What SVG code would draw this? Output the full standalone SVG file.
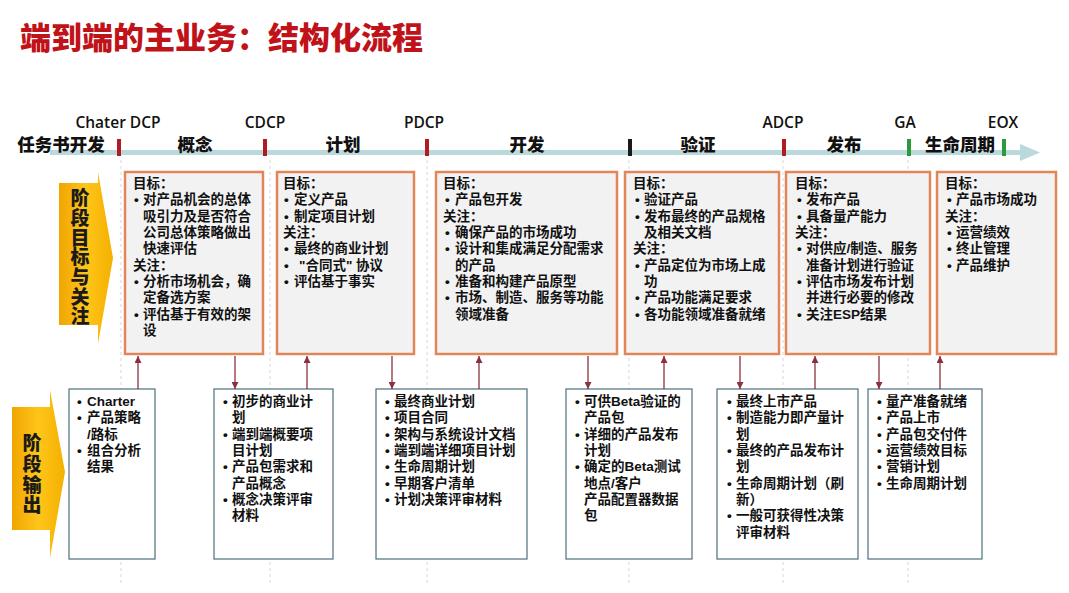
<svg xmlns="http://www.w3.org/2000/svg" width="1069" height="593" viewBox="0 0 1069 593">
<style>
.t{font-family:"Liberation Sans","Noto Sans CJK SC",sans-serif;font-weight:700;font-size:13.5px;fill:#111}
.b{font-family:"Liberation Sans",sans-serif;font-weight:700}
.ph{font-family:"Noto Sans CJK SC","Noto Sans",sans-serif;font-weight:900;font-size:17.5px;fill:#111;text-anchor:middle}
.ms{font-family:"Open Sans","Liberation Sans",sans-serif;font-weight:600;font-size:15.5px;fill:#111;text-anchor:middle}
.vl{font-family:"Noto Sans CJK SC",sans-serif;font-weight:900;font-size:19px;fill:#1a1a1a;writing-mode:vertical-rl;text-orientation:upright}
.top{fill:#f2f2f2;stroke:#e2865a;stroke-width:2.5}
.bot{fill:#fff;stroke:#4d6e7e;stroke-width:1.2}
.guide{stroke:#d3d8da;stroke-width:1;stroke-dasharray:3 3}
.con{stroke:#8c3040;stroke-width:1.3;fill:none}
</style>
<defs>
<linearGradient id="yel" x1="0" y1="0" x2="1" y2="0">
<stop offset="0" stop-color="#f0a500"/>
<stop offset="0.5" stop-color="#ffc51a"/>
<stop offset="1" stop-color="#f4b000"/>
</linearGradient>
<marker id="ah" viewBox="0 0 8 8" refX="8" refY="4" markerWidth="7" markerHeight="7" markerUnits="userSpaceOnUse" orient="auto">
<path d="M0,0 L8,4 L0,8 Z" fill="#8c3040"/>
</marker>
</defs>
<rect width="1069" height="593" fill="#fff"/>

<text x="20" y="49" font-family="Noto Sans CJK SC,sans-serif" font-weight="900" font-size="31" fill="#bf1219">端到端的主业务：结构化流程</text>

<g id="guides">
<line class="guide" x1="121" y1="160" x2="121" y2="585"/>
<line class="guide" x1="270" y1="160" x2="270" y2="585"/>
<line class="guide" x1="427" y1="160" x2="427" y2="585"/>
<line class="guide" x1="629" y1="160" x2="629" y2="585"/>
<line class="guide" x1="783" y1="160" x2="783" y2="585"/>
<line class="guide" x1="908" y1="160" x2="908" y2="585"/>
</g>

<g id="timeline">
<rect x="50" y="150" width="972" height="5" fill="#b9d9dc"/>
<path d="M1020,144 L1040,152.5 L1020,161 Z" fill="#b9d9dc"/>
<rect x="117" y="139" width="4" height="17" fill="#b01c22"/>
<rect x="263" y="139" width="4" height="17" fill="#b01c22"/>
<rect x="425" y="139" width="4" height="17" fill="#b01c22"/>
<rect x="628" y="139" width="4" height="17" fill="#1a1a1a"/>
<rect x="782" y="139" width="4" height="17" fill="#b01c22"/>
<rect x="907" y="139" width="4" height="17" fill="#2a9a3a"/>
<rect x="1002" y="139" width="4" height="17" fill="#2a9a3a"/>
<text class="ms" x="118" y="128">Chater DCP</text>
<text class="ms" x="265" y="128">CDCP</text>
<text class="ms" x="424" y="128">PDCP</text>
<text class="ms" x="783" y="128">ADCP</text>
<text class="ms" x="905" y="128">GA</text>
<text class="ms" x="1003" y="128">EOX</text>
<text class="ph" x="61" y="151">任务书开发</text>
<text class="ph" x="195" y="151">概念</text>
<text class="ph" x="343" y="151">计划</text>
<text class="ph" x="527" y="151">开发</text>
<text class="ph" x="698" y="151">验证</text>
<text class="ph" x="844" y="151">发布</text>
<text class="ph" x="960" y="151">生命周期</text>
</g>

<g id="label-goals">
<path d="M59,183 L98,183 L98,172 L113,258 L98,344 L98,325 L59,325 Z" fill="url(#yel)"/>
<text class="vl" x="80" y="188.5" letter-spacing="0.7">阶段目标与关注</text>
</g>

<g id="label-output">
<path d="M12,407 L50,407 L50,390 L65,472 L50,558 L50,530 L12,530 Z" fill="url(#yel)"/>
<text class="vl" x="32" y="433.5" letter-spacing="1.7">阶段输出</text>
</g>

<g id="goal-concept">
<rect class="top" x="125" y="172" width="138" height="182"/>
<text class="t">
<tspan x="133" y="188">目标：</tspan>
<tspan class="b" x="134" y="204.4">•</tspan><tspan x="143" y="204.4">对产品机会的总体</tspan>
<tspan x="143" y="220.7">吸引力及是否符合</tspan>
<tspan x="143" y="237">公司总体策略做出</tspan>
<tspan x="143" y="253.4">快速评估</tspan>
<tspan x="133" y="269.7">关注：</tspan>
<tspan class="b" x="134" y="286">•</tspan><tspan x="143" y="286">分析市场机会，确</tspan>
<tspan x="143" y="302.4">定备选方案</tspan>
<tspan class="b" x="134" y="318.7">•</tspan><tspan x="143" y="318.7">评估基于有效的架</tspan>
<tspan x="143" y="335">设</tspan>
</text>
</g>

<g id="goal-plan">
<rect class="top" x="277" y="172" width="137" height="182"/>
<text class="t">
<tspan x="283" y="188">目标：</tspan>
<tspan class="b" x="284" y="204.4">•</tspan><tspan x="294" y="204.4">定义产品</tspan>
<tspan class="b" x="284" y="220.7">•</tspan><tspan x="294" y="220.7">制定项目计划</tspan>
<tspan x="283" y="237">关注：</tspan>
<tspan class="b" x="284" y="253.4">•</tspan><tspan x="294" y="253.4">最终的商业计划</tspan>
<tspan class="b" x="284" y="269.7">•</tspan><tspan x="299" y="269.7">"合同式" 协议</tspan>
<tspan class="b" x="284" y="286">•</tspan><tspan x="294" y="286">评估基于事实</tspan>
</text>
</g>

<g id="goal-develop">
<rect class="top" x="436" y="172" width="181" height="182"/>
<text class="t">
<tspan x="443" y="188">目标：</tspan>
<tspan class="b" x="445" y="204.4">•</tspan><tspan x="455" y="204.4">产品包开发</tspan>
<tspan x="443" y="220.7">关注：</tspan>
<tspan class="b" x="445" y="237">•</tspan><tspan x="455" y="237">确保产品的市场成功</tspan>
<tspan class="b" x="445" y="253.4">•</tspan><tspan x="455" y="253.4">设计和集成满足分配需求</tspan>
<tspan x="455" y="269.7">的产品</tspan>
<tspan class="b" x="445" y="286">•</tspan><tspan x="455" y="286">准备和构建产品原型</tspan>
<tspan class="b" x="445" y="302.4">•</tspan><tspan x="455" y="302.4">市场、制造、服务等功能</tspan>
<tspan x="455" y="318.7">领域准备</tspan>
</text>
</g>

<g id="goal-verify">
<rect class="top" x="625" y="172" width="154" height="182"/>
<text class="t">
<tspan x="633" y="188">目标：</tspan>
<tspan class="b" x="635" y="204.4">•</tspan><tspan x="644" y="204.4">验证产品</tspan>
<tspan class="b" x="635" y="220.7">•</tspan><tspan x="644" y="220.7">发布最终的产品规格</tspan>
<tspan x="644" y="237">及相关文档</tspan>
<tspan x="633" y="253.4">关注：</tspan>
<tspan class="b" x="635" y="269.7">•</tspan><tspan x="644" y="269.7">产品定位为市场上成</tspan>
<tspan x="644" y="286">功</tspan>
<tspan class="b" x="635" y="302.4">•</tspan><tspan x="644" y="302.4">产品功能满足要求</tspan>
<tspan class="b" x="635" y="318.7">•</tspan><tspan x="644" y="318.7">各功能领域准备就绪</tspan>
</text>
</g>

<g id="goal-release">
<rect class="top" x="786" y="172" width="144" height="182"/>
<text class="t">
<tspan x="795" y="188">目标：</tspan>
<tspan class="b" x="797" y="204.4">•</tspan><tspan x="806" y="204.4">发布产品</tspan>
<tspan class="b" x="797" y="220.7">•</tspan><tspan x="806" y="220.7">具备量产能力</tspan>
<tspan x="795" y="237">关注：</tspan>
<tspan class="b" x="797" y="253.4">•</tspan><tspan x="806" y="253.4">对供应/制造、服务</tspan>
<tspan x="806" y="269.7">准备计划进行验证</tspan>
<tspan class="b" x="797" y="286">•</tspan><tspan x="806" y="286">评估市场发布计划</tspan>
<tspan x="806" y="302.4">并进行必要的修改</tspan>
<tspan class="b" x="797" y="318.7">•</tspan><tspan x="806" y="318.7">关注ESP结果</tspan>
</text>
</g>

<g id="goal-lifecycle">
<rect class="top" x="937" y="172" width="119" height="182"/>
<text class="t">
<tspan x="945" y="188">目标：</tspan>
<tspan class="b" x="947" y="204.4">•</tspan><tspan x="956" y="204.4">产品市场成功</tspan>
<tspan x="945" y="220.7">关注：</tspan>
<tspan class="b" x="947" y="237">•</tspan><tspan x="956" y="237">运营绩效</tspan>
<tspan class="b" x="947" y="253.4">•</tspan><tspan x="956" y="253.4">终止管理</tspan>
<tspan class="b" x="947" y="269.7">•</tspan><tspan x="956" y="269.7">产品维护</tspan>
</text>
</g>

<g id="out-charter">
<rect class="bot" x="69" y="389" width="86" height="170"/>
<text class="t">
<tspan class="b" x="77" y="406">•</tspan><tspan x="87" y="406">Charter</tspan>
<tspan class="b" x="77" y="422.3">•</tspan><tspan x="87" y="422.3">产品策略</tspan>
<tspan x="87" y="438.6">/路标</tspan>
<tspan class="b" x="77" y="455">•</tspan><tspan x="87" y="455">组合分析</tspan>
<tspan x="87" y="471.3">结果</tspan>
</text>
</g>

<g id="out-concept">
<rect class="bot" x="214" y="389" width="119" height="170"/>
<text class="t">
<tspan class="b" x="223" y="406">•</tspan><tspan x="232" y="406">初步的商业计</tspan>
<tspan x="232" y="422.3">划</tspan>
<tspan class="b" x="223" y="438.6">•</tspan><tspan x="232" y="438.6">端到端概要项</tspan>
<tspan x="232" y="455">目计划</tspan>
<tspan class="b" x="223" y="471.3">•</tspan><tspan x="232" y="471.3">产品包需求和</tspan>
<tspan x="232" y="487.6">产品概念</tspan>
<tspan class="b" x="223" y="504">•</tspan><tspan x="232" y="504">概念决策评审</tspan>
<tspan x="232" y="520.3">材料</tspan>
</text>
</g>

<g id="out-plan">
<rect class="bot" x="376" y="389" width="151" height="170"/>
<text class="t">
<tspan class="b" x="385" y="406">•</tspan><tspan x="394" y="406">最终商业计划</tspan>
<tspan class="b" x="385" y="422.3">•</tspan><tspan x="394" y="422.3">项目合同</tspan>
<tspan class="b" x="385" y="438.6">•</tspan><tspan x="394" y="438.6">架构与系统设计文档</tspan>
<tspan class="b" x="385" y="455">•</tspan><tspan x="394" y="455">端到端详细项目计划</tspan>
<tspan class="b" x="385" y="471.3">•</tspan><tspan x="394" y="471.3">生命周期计划</tspan>
<tspan class="b" x="385" y="487.6">•</tspan><tspan x="394" y="487.6">早期客户清单</tspan>
<tspan class="b" x="385" y="504">•</tspan><tspan x="394" y="504">计划决策评审材料</tspan>
</text>
</g>

<g id="out-develop">
<rect class="bot" x="566" y="389" width="126" height="170"/>
<text class="t">
<tspan class="b" x="575" y="406">•</tspan><tspan x="584" y="406">可供Beta验证的</tspan>
<tspan x="584" y="422.3">产品包</tspan>
<tspan class="b" x="575" y="438.6">•</tspan><tspan x="584" y="438.6">详细的产品发布</tspan>
<tspan x="584" y="455">计划</tspan>
<tspan class="b" x="575" y="471.3">•</tspan><tspan x="584" y="471.3">确定的Beta测试</tspan>
<tspan x="584" y="487.6">地点/客户</tspan>
<tspan x="584" y="504">产品配置器数据</tspan>
<tspan x="584" y="520.3">包</tspan>
</text>
</g>

<g id="out-verify">
<rect class="bot" x="717" y="389" width="141" height="170"/>
<text class="t">
<tspan class="b" x="727" y="406">•</tspan><tspan x="736" y="406">最终上市产品</tspan>
<tspan class="b" x="727" y="422.3">•</tspan><tspan x="736" y="422.3">制造能力即产量计</tspan>
<tspan x="736" y="438.6">划</tspan>
<tspan class="b" x="727" y="455">•</tspan><tspan x="736" y="455">最终的产品发布计</tspan>
<tspan x="736" y="471.3">划</tspan>
<tspan class="b" x="727" y="487.6">•</tspan><tspan x="736" y="487.6">生命周期计划（刷</tspan>
<tspan x="736" y="504">新）</tspan>
<tspan class="b" x="727" y="520.3">•</tspan><tspan x="736" y="520.3">一般可获得性决策</tspan>
<tspan x="736" y="536.6">评审材料</tspan>
</text>
</g>

<g id="out-release">
<rect class="bot" x="868" y="389" width="114" height="170"/>
<text class="t">
<tspan class="b" x="877" y="406">•</tspan><tspan x="886" y="406">量产准备就绪</tspan>
<tspan class="b" x="877" y="422.3">•</tspan><tspan x="886" y="422.3">产品上市</tspan>
<tspan class="b" x="877" y="438.6">•</tspan><tspan x="886" y="438.6">产品包交付件</tspan>
<tspan class="b" x="877" y="455">•</tspan><tspan x="886" y="455">运营绩效目标</tspan>
<tspan class="b" x="877" y="471.3">•</tspan><tspan x="886" y="471.3">营销计划</tspan>
<tspan class="b" x="877" y="487.6">•</tspan><tspan x="886" y="487.6">生命周期计划</tspan>
</text>
</g>

<g id="connectors">
<line class="con" x1="138" y1="389" x2="138" y2="356" marker-end="url(#ah)"/>
<line class="con" x1="235" y1="356" x2="235" y2="389" marker-end="url(#ah)"/>
<line class="con" x1="307" y1="389" x2="307" y2="356" marker-end="url(#ah)"/>
<line class="con" x1="392" y1="356" x2="392" y2="389" marker-end="url(#ah)"/>
<line class="con" x1="479" y1="389" x2="479" y2="356" marker-end="url(#ah)"/>
<line class="con" x1="588" y1="356" x2="588" y2="389" marker-end="url(#ah)"/>
<line class="con" x1="664" y1="389" x2="664" y2="356" marker-end="url(#ah)"/>
<line class="con" x1="740" y1="356" x2="740" y2="389" marker-end="url(#ah)"/>
<line class="con" x1="815" y1="389" x2="815" y2="356" marker-end="url(#ah)"/>
<line class="con" x1="879" y1="356" x2="879" y2="389" marker-end="url(#ah)"/>
<line class="con" x1="940" y1="389" x2="940" y2="356" marker-end="url(#ah)"/>
</g>
</svg>
